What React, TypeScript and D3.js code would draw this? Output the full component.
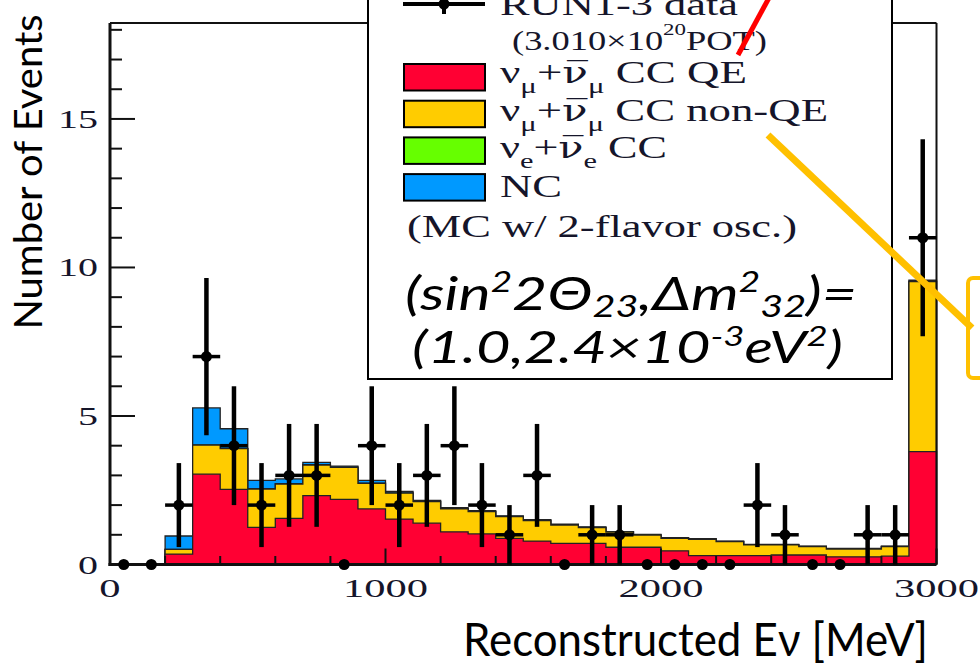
import React from 'react';
import * as d3 from 'd3';

// ---- data ----
const binCenters = [50,150,250,350,450,550,650,750,850,950,1050,1150,1250,1350,1450,1550,1650,1750,1850,1950,2050,2150,2250,2350,2450,2550,2650,2750,2850,2950];
const dataCounts = [0,0,2,7,4,2,3,3,0,4,2,3,4,2,1,3,0,1,1,0,0,0,0,2,1,0,0,1,1,11];
const ccQE =      [0,0,0.35,3.04,2.53,1.25,1.55,2.32,2.19,1.87,1.53,1.39,1.10,1.03,0.88,0.79,0.71,0.71,0.58,0.58,0.46,0.30,0.30,0.30,0.32,0.32,0.26,0.26,0.28,3.80];
const ccNonQE =   [0,0,0.16,0.98,1.37,1.29,1.16,1.03,1.08,0.86,0.87,0.73,0.77,0.75,0.73,0.69,0.62,0.53,0.51,0.41,0.42,0.55,0.47,0.36,0.34,0.28,0.26,0.26,0.32,5.72];
const nueCC =     [0,0,0,0.01,0.01,0.01,0.01,0.01,0.01,0.01,0.01,0.01,0.01,0.01,0.01,0.01,0.01,0.01,0.01,0.01,0.01,0.01,0.01,0.01,0.01,0.01,0.01,0.01,0.01,0.02];
const ncEvents =  [0,0,0.45,1.24,0.66,0.28,0.16,0.08,0.03,0.09,0.05,0.03,0.03,0.02,0.02,0.02,0.02,0.02,0.01,0.01,0.01,0.01,0.01,0.01,0.01,0.01,0.01,0.01,0.01,0.03];
const binWidth = 100;
const xDomain = [0, 3000];
const yDomain = [0, 18.23];
const xTickLabels = ['0', '1000', '2000', '3000'];
const yTickLabels = ['0', '5', '10', '15'];
const layerColors = ['#0099ff', '#66ff00', '#ffcc00', '#ff0033'];

const SERIF = '"Liberation Serif", "Times New Roman", serif';
const SANS = 'Lato, "Open Sans", sans-serif';
const INK = '#15152a';
const BAR_FONT = '"DejaVu Serif", serif';

export default function App() {
  const x = d3.scaleLinear().domain(xDomain).range([110, 936.5]);
  const y = d3.scaleLinear().domain(yDomain).range([564.5, 23]);

  // cumulative stacks: red, red+yellow, +green, +blue
  const c1 = ccQE;
  const c2 = c1.map((v, i) => v + ccNonQE[i]);
  const c3 = c2.map((v, i) => v + nueCC[i]);
  const c4 = c3.map((v, i) => v + ncEvents[i]);
  const layers = [c4, c3, c2, c1];

  const steps = (vals: number[]) =>
    vals.flatMap((v, i) => [[binCenters[i] - binWidth / 2, v], [binCenters[i] + binWidth / 2, v]]);
  const area = d3.area<number[]>().x(d => x(d[0])).y0(y(0)).y1(d => y(d[1]));
  const line = d3.line<number[]>().x(d => x(d[0])).y(d => y(d[1]));

  const xMinor = x.ticks(15);
  const xMajor = x.ticks(3);
  const yMinor = y.ticks(20).filter(v => v <= 18);
  const yMajor = y.ticks(4);

  const nuBar = (
    <tspan fontFamily={BAR_FONT} fontSize={30}>{'\u03BD\u0305'}</tspan>
  );

  return (
    <svg width={980} height={663} style={{ position: 'absolute', left: 0, top: 0, background: '#fff' }}>
      <rect x={0} y={0} width={980} height={663} fill="#fff" />

      {/* stacked histogram */}
      {layers.map((vals, k) => (
        <g key={k}>
          <path d={area(steps(vals)) || ''} fill={layerColors[k]} />
          <path d={line([[0, 0], ...steps(vals), [3000, 0]]) || ''} fill="none" stroke="#222" strokeWidth={1.3} />
        </g>
      ))}

      {/* axes and frame */}
      <g stroke="#111">
        {xMinor.map(v => (
          <line key={'xm' + v} x1={x(v)} x2={x(v)} y1={y(0)} y2={y(0) - (xMajor.includes(v) ? 16 : 8.5)} strokeWidth={2} />
        ))}
        {yMinor.map(v => (
          <line key={'ym' + v} x1={x(0)} x2={x(0) + (yMajor.includes(v) ? 25 : 12)} y1={y(v)} y2={y(v)} strokeWidth={2} />
        ))}
        <line x1={x(0)} x2={x(3000)} y1={y(18.23)} y2={y(18.23)} strokeWidth={2} />
        <line x1={x(3000)} x2={x(3000)} y1={y(18.23)} y2={y(0)} strokeWidth={2} />
        <line x1={x(0) - 1.5} x2={x(3000)} y1={y(0)} y2={y(0)} strokeWidth={3} />
        <line x1={x(0)} x2={x(0)} y1={y(18.23)} y2={y(0) + 1.5} strokeWidth={3} />
      </g>

      {/* tick labels */}
      <g fontFamily={SERIF} fontSize={25} fill={INK}>
        {xMajor.map((v, i) => (
          <text key={'xl' + v} transform={`translate(${x(v)},597) scale(1.7,1)`} textAnchor="middle">{xTickLabels[i]}</text>
        ))}
        {yMajor.map((v, i) => (
          <text key={'yl' + v} transform={`translate(98,${y(v) + 9}) scale(1.6,1)`} textAnchor="end">{yTickLabels[i]}</text>
        ))}
      </g>

      {/* data points */}
      <g stroke="#000" fill="#000">
        {dataCounts.map((n, i) => {
          const cx = x(binCenters[i]);
          const cy = y(n);
          const e = Math.sqrt(n);
          return (
            <g key={'d' + i}>
              {n > 0 && (
                <>
                  <line x1={cx} x2={cx} y1={y(n + e)} y2={y(n - e)} strokeWidth={4.5} />
                  <line x1={x(binCenters[i] - binWidth / 2)} x2={x(binCenters[i] + binWidth / 2)} y1={cy} y2={cy} strokeWidth={3.5} />
                </>
              )}
              <circle cx={cx} cy={cy} r={5.5} stroke="none" />
            </g>
          );
        })}
      </g>

      {/* legend */}
      <rect x={368} y={-10} width={524} height={389} fill="#fff" stroke="#000" strokeWidth={2} />
      <g stroke="#000">
        <line x1={403} x2={485} y1={4} y2={4} strokeWidth={4} />
        <line x1={444} x2={444} y1={-6} y2={14} strokeWidth={4} />
        <circle cx={444} cy={4} r={5.5} fill="#000" stroke="none" />
        {[0, 1, 2, 3].map(k => (
          <rect key={'sw' + k} x={404} y={64 + k * 36.7} width={81} height={26.5} fill={layerColors[3 - k]} strokeWidth={2} />
        ))}
      </g>
      <g fontFamily={SERIF} fill={INK}>
        <text x={500} y={15} fontSize={32} textLength={238} lengthAdjust="spacingAndGlyphs">RUN1-3 data</text>
        <text x={512} y={50} fontSize={27} textLength={255} lengthAdjust="spacingAndGlyphs">
          (3.010×10<tspan dy={-15} fontSize={17}>20</tspan><tspan dy={15}>POT)</tspan>
        </text>
        <text x={500} y={83} fontSize={32} textLength={247} lengthAdjust="spacingAndGlyphs">
          ν<tspan dy={10} fontSize={22}>μ</tspan><tspan dy={-10}>+</tspan>{nuBar}<tspan dy={10} fontSize={22}>μ</tspan><tspan dy={-10}> CC QE</tspan>
        </text>
        <text x={500} y={121} fontSize={32} textLength={328} lengthAdjust="spacingAndGlyphs">
          ν<tspan dy={10} fontSize={22}>μ</tspan><tspan dy={-10}>+</tspan>{nuBar}<tspan dy={10} fontSize={22}>μ</tspan><tspan dy={-10}> CC non-QE</tspan>
        </text>
        <text x={500} y={158} fontSize={32} textLength={167} lengthAdjust="spacingAndGlyphs">
          ν<tspan dy={10} fontSize={22}>e</tspan><tspan dy={-10}>+</tspan>{nuBar}<tspan dy={10} fontSize={22}>e</tspan><tspan dy={-10}> CC</tspan>
        </text>
        <text x={500} y={197} fontSize={32} textLength={62} lengthAdjust="spacingAndGlyphs">NC</text>
        <text x={407} y={237} fontSize={32} textLength={390} lengthAdjust="spacingAndGlyphs">(MC w/ 2-flavor osc.)</text>
      </g>
      <g fontFamily={SANS} fontStyle="italic" fill="#000">
        <text x={405} y={310} fontSize={46} textLength={452} lengthAdjust="spacingAndGlyphs">
          (sin<tspan dy={-18} fontSize={28}>2</tspan><tspan dy={18}>2Θ</tspan><tspan dy={7} fontSize={30}>23</tspan><tspan dy={-7}>,Δm</tspan><tspan dy={-18} fontSize={28}>2</tspan><tspan dy={25} fontSize={30}>32</tspan><tspan dy={-7}>)=</tspan>
        </text>
        <text x={412} y={363} fontSize={44} textLength={431} lengthAdjust="spacingAndGlyphs">
          (1.0,2.4×10<tspan dy={-17} fontSize={27}>-3</tspan><tspan dy={17}>eV</tspan><tspan dy={-17} fontSize={27}>2</tspan><tspan dy={17}>)</tspan>
        </text>
      </g>

      {/* annotations */}
      <line x1={738} y1={55} x2={770} y2={-4} stroke="#ff0000" strokeWidth={5} />
      <line x1={768} y1={135} x2={972} y2={328} stroke="#ffc000" strokeWidth={7} />
      <rect x={968} y={278} width={60} height={100} rx={5} fill="none" stroke="#ffc000" strokeWidth={4} />

      {/* axis titles */}
      <text x={463} y={656} fontFamily={SANS} fontSize={46} fill="#000" textLength={465} lengthAdjust="spacingAndGlyphs">Reconstructed Eν [MeV]</text>
      <text transform="translate(42,172) rotate(-90)" textAnchor="middle" fontFamily={SANS} fontSize={38} fill="#000" textLength={315} lengthAdjust="spacingAndGlyphs">Number of Events</text>
    </svg>
  );
}
